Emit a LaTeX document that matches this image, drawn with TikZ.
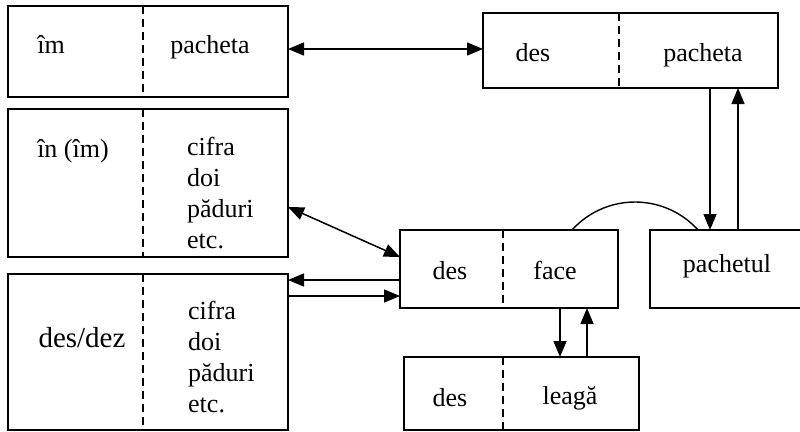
\documentclass[tikz,border=0pt]{standalone}
\usepackage{fontspec}
\setmainfont{Liberation Serif}
\usetikzlibrary{arrows.meta}
\begin{document}
\begin{tikzpicture}[x=1pt,y=-1pt,
  box/.style={draw,line width=1.6pt,minimum width=#1,inner sep=0pt,outer sep=0pt},
  sep/.style={line width=1.4pt,dash pattern=on 8pt off 5pt},
  lbl/.style={inner sep=0pt,font=\fontsize{26}{31}\selectfont,anchor=base},
  lblw/.style={lbl,anchor=base west},
  tip/.style={Triangle[length=16pt,width=13pt]},
  arr/.style={line width=1.5pt,-{Triangle[length=16pt,width=13pt]}},
  arrb/.style={line width=1.5pt,{Triangle[length=16pt,width=13pt]}-{Triangle[length=16pt,width=13pt]}}]
\useasboundingbox (0,0) rectangle (800,431);
\clip (0,0) rectangle (800,431);
\fill[white] (0,0) rectangle (800,431);
% boxes
\node[box=280pt,minimum height=91pt] (b1) at (148,51.5) {};
\node[box=280pt,minimum height=148pt] (b2) at (148,183) {};
\node[box=280pt,minimum height=156pt] (b3) at (148,352) {};
\node[box=295pt,minimum height=75pt] (tr) at (630.5,50.5) {};
\node[box=218pt,minimum height=78pt] (fc) at (509,269) {};
\node[box=235pt,minimum height=73pt] (lg) at (521.5,393.5) {};
\node[box=160pt,minimum height=78pt] (pk) at (730,269) {};
% dashed separators
\draw[sep] (143,6) -- (143,97);
\draw[sep] (143,109) -- (143,257);
\draw[sep] (143,274) -- (143,430);
\draw[sep] (619,13) -- (619,88);
\draw[sep] (503,230) -- (503,308);
\draw[sep] (503,357) -- (503,430);
% labels
\node[lbl] (t1a) at (51,53) {îm};
\node[lbl] (t1b) at (210,53) {pacheta};
\node[lbl] (t2a) at (73,157) {în (îm)};
\foreach \w [count=\i] in {cifra,doi,păduri,etc.}
  \node[lblw] (t2b\i) at (187,155+31*\i-31) {\w};
\node[lbl,font=\fontsize{29}{34}\selectfont] (t3a) at (82,347) {des/dez};
\foreach \w [count=\i] in {cifra,doi,păduri,etc.}
  \node[lblw] (t3b\i) at (188,319+31*\i-31) {\w};
\node[lbl] (tra) at (533,61) {des};
\node[lbl] (trb) at (703,61) {pacheta};
\node[lbl] (fca) at (450,279) {des};
\node[lbl] (fcb) at (555,279) {face};
\node[lbl] (lga) at (450,406) {des};
\node[lbl] (lgb) at (570,404) {leagă};
\node[lbl] (pka) at (727,272) {pachetul};
% connectors
\draw[arrb] ([yshift=2.5pt]b1.east) -- ([yshift=1.5pt]tr.west);
\draw[arrb] ([yshift=-24pt]b2.east) -- ([yshift=12pt]fc.west);
\draw[arr] ([yshift=-11pt]fc.west) -- (b3.east |- 0,280);
\draw[arr] (b3.east |- 0,296) -- ([yshift=-27pt]fc.west);
\draw[arr] (fc.south -| 560,0) -- (lg.north -| 560,0);
\draw[arr] (lg.north -| 587,0) -- (fc.south -| 587,0);
\draw[arr] (tr.south -| 710,0) -- (pk.north -| 710,0);
\draw[arr] (pk.north -| 738,0) -- (tr.south -| 738,0);
\coordinate (arcA) at (572,230);
\draw[line width=1.4pt] (arcA) arc[start angle=137.92,end angle=42.08,radius=84.9pt];
\end{tikzpicture}
\end{document}
